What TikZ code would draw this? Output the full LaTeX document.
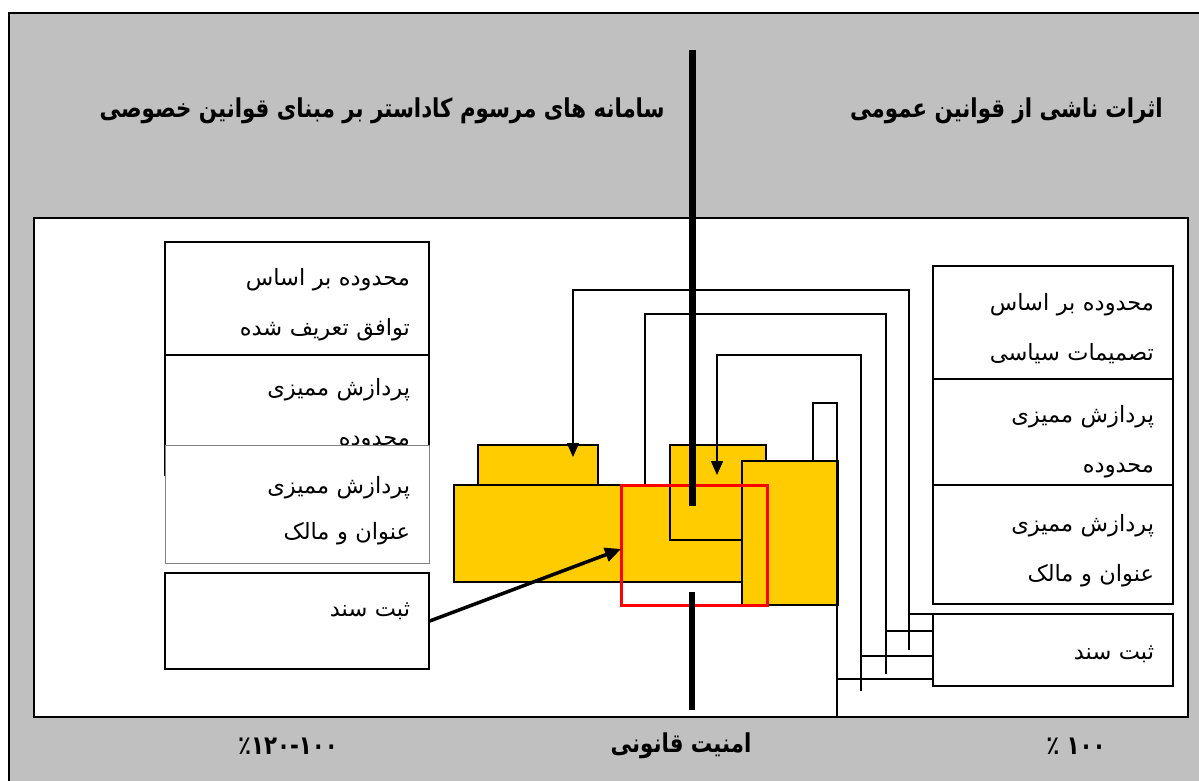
\documentclass[tikz,border=0pt]{standalone}
\usepackage{fontspec}
\usetikzlibrary{arrows.meta,calc}
\TeXXeTstate=1
\newfontfamily\arfont[Script=Arabic]{DejaVu Sans}
\newfontfamily\headfont[Script=Arabic,FakeStretch=0.82]{DejaVu Sans}
\newcommand{\rl}[1]{\beginR #1\endR}
\newcommand{\fs}{\rule{0pt}{30pt}}
\definecolor{panelgrey}{HTML}{C0C0C0}
\definecolor{gold}{HTML}{FFCC00}
\tikzset{
  boxnode/.style={draw=black, line width=1.5pt, fill=white, inner xsep=19pt, inner ysep=0pt,
    align=right, font=\arfont\fontsize{22.5}{50}\selectfont},
  ybox/.style={draw=black, line width=1.5pt, fill=gold, inner sep=0pt, anchor=north west},
  conn/.style={draw=black, line width=1.5pt},
  tip/.style={-{Triangle[length=14pt,width=12pt]}},
  heading/.style={inner sep=0pt, font=\headfont\bfseries\fontsize{26}{30}\selectfont},
  footing/.style={inner sep=0pt, font=\headfont\bfseries\fontsize{26}{30}\selectfont},
}
\begin{document}
\begin{tikzpicture}[x=1pt,y=-1pt]
\useasboundingbox (0,0) rectangle (1199,780);
\clip (0,0) rectangle (1199,780);
% panels
\node[draw=black, line width=1.5pt, fill=panelgrey, inner sep=0pt, anchor=north west,
  minimum width=1220pt, minimum height=800pt] (outer) at (8,12) {};
\node[draw=black, line width=1.5pt, fill=white, inner sep=0pt, anchor=north west,
  minimum width=1154pt, minimum height=499pt] (inner) at (33,217) {};
% headings
\node[heading, anchor=east] (hl) at (665,111) {\rl{سامانه های مرسوم کاداستر بر مبنای قوانین خصوصی}};
\node[heading, anchor=east] (hr) at (1163,111) {\rl{اثرات ناشی از قوانین عمومی}};
% bottom labels
\node[footing] (bl) at (288,746) {٪۱۲۰-۱۰۰};
\node[footing] (bm) at (681,746) {\rl{امنیت قانونی}};
\node[footing] (br) at (1076,746) {\rl{۱۰۰ ٪}};
% left boxes
\node[boxnode, text width=226pt, minimum height=113pt] (A) at (297,298.5) {\fs\rl{محدوده بر اساس}\\\rl{توافق تعریف شده}};
\node[boxnode, text width=226pt, minimum height=120pt] (B) at (297,415) {\rl{پردازش ممیزی}\\\rl{محدوده}};
\node[boxnode, draw=gray, line width=1pt, text width=226pt, minimum height=118pt, font=\arfont\fontsize{22.5}{46}\selectfont] (C) at (297,504) {\fs\rl{پردازش ممیزی}\\\rl{عنوان و مالک}};
\draw[conn] (B.north west) -- (B.south west);
\node[boxnode, text width=226pt, minimum height=96pt, text depth=22pt] (D) at (297,621) {\rl{ثبت سند}};
% right boxes
\node[boxnode, text width=202pt, minimum height=113pt] (E) at (1053,322.5) {\fs\rl{محدوده بر اساس}\\\rl{تصمیمات سیاسی}};
\node[boxnode, text width=202pt, minimum height=106pt] (F) at (1053,432) {\rule{0pt}{36pt}\rl{پردازش ممیزی}\\\rl{محدوده}};
\node[boxnode, text width=202pt, minimum height=119pt] (G) at (1053,544.5) {\fs\rl{پردازش ممیزی}\\\rl{عنوان و مالک}};
\node[boxnode, text width=202pt, minimum height=72pt] (H) at (1053,650) {\rule{0pt}{22pt}\rl{ثبت سند}};
% yellow blocks
\node[ybox, minimum width=292pt, minimum height=97pt] (Y2) at (453,484) {};
\node[ybox, minimum width=120pt, minimum height=40pt] (Y1) at (477,444) {};
\node[ybox, minimum width=96pt, minimum height=95pt] (Y3) at (669,444) {};
\node[ybox, minimum width=96pt, minimum height=144pt] (Y4) at (741,460) {};
% connectors
\coordinate (t1) at (573,457);
\coordinate (t2) at (645,484);
\coordinate (t3) at (717,475);
\draw[conn] (H.west |- 0,614) -- (909,614);
\draw[conn, tip] (909,650) |- (573,290) -- (t1);
\draw[conn] (H.west |- 0,631) -- (886,631);
\draw[conn] (886,674) |- (645,314) -- (t2);
\draw[conn] (H.west |- 0,656) -- (861,656);
\draw[conn, tip] (861,691) |- (717,355) -- (t3);
\draw[conn] (H.west |- 0,679) -- (837,679);
\draw[conn] (Y4.north west -| 813,0) -- (813,403) -- (837,403) -- (inner.south -| 837,0);
% red frame
\node[draw=red, line width=3pt, inner sep=0pt, anchor=north west, minimum width=146pt, minimum height=120pt] (R) at (620,484) {};
% central axis
\draw[line width=7pt] (692,50) -- (692,506);
\draw[line width=6pt] (692,592) -- (692,710);
% arrow from D
\coordinate (t5) at (621,549);
\draw[line width=3.5pt, -{Triangle[length=16pt,width=14pt]}] (D.east) -- (t5);
\end{tikzpicture}
\end{document}
